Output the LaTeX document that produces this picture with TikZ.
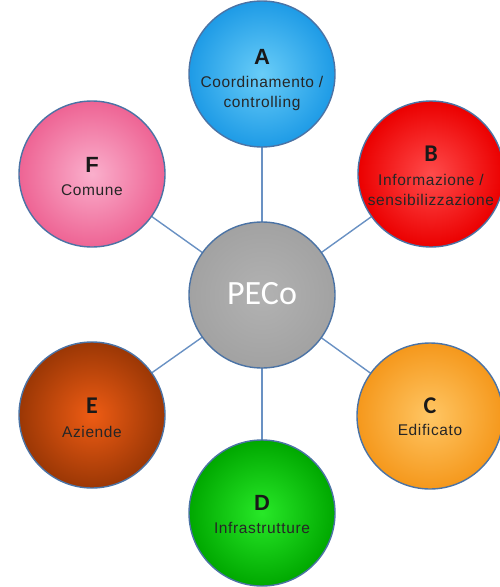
\documentclass[tikz,border=0pt]{standalone}
\usepackage{fontspec}
\setmainfont{Liberation Sans}
\newfontfamily\calib{Carlito}
\newfontfamily\spaced[LetterSpace=4]{Liberation Sans}
\definecolor{bordc}{RGB}{75,115,165}
\definecolor{linec}{RGB}{105,145,195}
\definecolor{ain}{RGB}{105,205,248}\definecolor{aout}{RGB}{30,155,230}
\definecolor{bin}{RGB}{255,75,75}\definecolor{bout}{RGB}{235,0,0}
\definecolor{cin}{RGB}{255,198,100}\definecolor{cout}{RGB}{245,152,28}
\definecolor{din}{RGB}{40,232,40}\definecolor{dout}{RGB}{0,168,0}
\definecolor{ein}{RGB}{238,92,20}\definecolor{eout}{RGB}{155,55,5}
\definecolor{fin}{RGB}{250,175,204}\definecolor{fout}{RGB}{238,100,148}
\definecolor{pin}{RGB}{178,178,178}\definecolor{pout}{RGB}{162,162,162}
\begin{document}
\begin{tikzpicture}[x=1pt,y=-1pt,
  ball/.style={circle,minimum size=146pt,inner sep=0pt,draw=bordc,line width=1.4pt,shading=radial},
  conn/.style={draw=linec,line width=1.4pt},
  letA/.style={font=\fontsize{22}{24}\selectfont\bfseries,text=black!90},
  letB/.style={font=\calib\fontsize{24}{26}\selectfont\bfseries,text=black!90},
  txt/.style={font=\spaced\fontsize{15.5}{20}\selectfont,text=black!85,align=center}]
\useasboundingbox (0,0) rectangle (500,587);
\coordinate (pc) at (262,295);
\coordinate (ac) at (262,74);
\coordinate (bc) at (431,174);
\coordinate (cc) at (430,416);
\coordinate (dc) at (262,513);
\coordinate (ec) at (92,415);
\coordinate (fc) at (92,174);
\draw[conn] (pc) -- (ac);
\draw[conn] (pc) -- (bc);
\draw[conn] (pc) -- (cc);
\draw[conn] (pc) -- (dc);
\draw[conn] (pc) -- (ec);
\draw[conn] (pc) -- (fc);
\node[ball,inner color=pin,outer color=pout] (P) at (pc) {};
\node[ball,inner color=ain,outer color=aout] (A) at (ac) {};
\node[ball,inner color=bin,outer color=bout] (B) at (bc) {};
\node[ball,inner color=cin,outer color=cout] (C) at (cc) {};
\node[ball,inner color=din,outer color=dout] (D) at (dc) {};
\node[ball,inner color=ein,outer color=eout] (E) at (ec) {};
\node[ball,inner color=fin,outer color=fout] (F) at (fc) {};
\node[font=\calib\fontsize{34}{36}\selectfont,text=white] (Pt) at (262,294) {PECo};
\node[letA] (Al) at (262,57) {A};
\node[txt] (At) at (262,93) {Coordinamento /\\controlling};
\node[letB] (Bl) at (431,154) {B};
\node[txt] (Bt) at (431,190) {Informazione /\\sensibilizzazione};
\node[letB] (Cl) at (430,406) {C};
\node[txt] (Ct) at (430,430) {Edificato};
\node[letA] (Dl) at (262,503) {D};
\node[txt] (Dt) at (262,528) {Infrastrutture};
\node[letB] (El) at (92,406) {E};
\node[txt] (Et) at (92,432) {Aziende};
\node[letA] (Fl) at (92,165) {F};
\node[txt] (Ft) at (92,190) {Comune};
\end{tikzpicture}
\end{document}
